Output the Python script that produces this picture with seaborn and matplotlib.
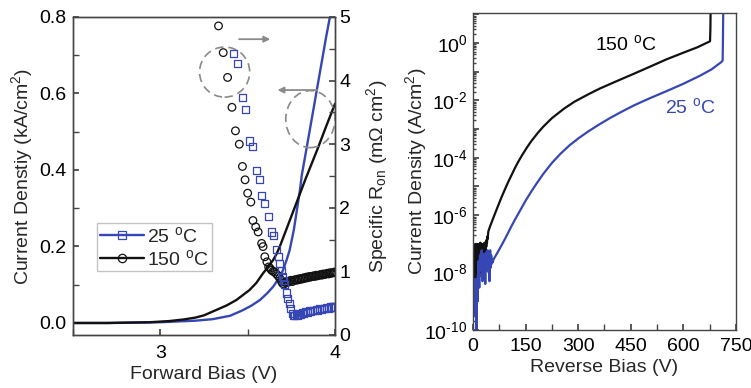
import numpy as np
import pandas as pd
import matplotlib
matplotlib.use("Agg")
import matplotlib.pyplot as plt
from matplotlib.patches import Ellipse
from matplotlib.lines import Line2D
from matplotlib.ticker import MultipleLocator, FixedLocator, FuncFormatter, LogLocator, NullFormatter
import seaborn as sns

# ---------------- data ----------------
labels = ["25 $^{\\mathrm{o}}$C", "150 $^{\\mathrm{o}}$C"]

# forward J-V (kA/cm^2)
fwd_v_25 = [2.5, 2.7, 2.9, 3.0, 3.1, 3.2, 3.3, 3.4, 3.47, 3.52, 3.57, 3.61, 3.646, 3.68,
            3.703, 3.723, 3.74, 3.764, 3.78, 3.8, 3.81, 3.85, 3.9, 3.95, 3.975]
fwd_j_25 = [0.0, 0.0, 0.001, 0.002, 0.004, 0.006, 0.010, 0.019, 0.033, 0.045, 0.060, 0.077,
            0.095, 0.118, 0.139, 0.165, 0.190, 0.243, 0.290, 0.350, 0.387, 0.490, 0.620,
            0.750, 0.810]
fwd_v_150 = [2.5, 2.7, 2.8, 2.94, 3.05, 3.13, 3.2, 3.25, 3.32, 3.38, 3.435, 3.51, 3.55, 3.588,
             3.62, 3.646, 3.665, 3.684, 3.72, 3.78, 3.83, 3.9, 3.95, 4.0]
fwd_j_150 = [0.0, 0.0, 0.001, 0.002, 0.005, 0.009, 0.014, 0.020, 0.034, 0.046, 0.060, 0.086,
             0.105, 0.130, 0.148, 0.165, 0.180, 0.200, 0.243, 0.315, 0.375, 0.455, 0.515, 0.573]

# specific on-resistance (mOhm cm^2)
ron_v_25 = [3.42, 3.444, 3.47, 3.49, 3.51, 3.53, 3.55, 3.569, 3.58, 3.594, 3.617, 3.636, 3.646,
            3.665, 3.674, 3.684, 3.694, 3.700, 3.707, 3.713, 3.72, 3.73, 3.737, 3.745, 3.755,
            3.762, 3.770, 3.778, 3.786, 3.794, 3.802, 3.812, 3.822, 3.832, 3.842, 3.852, 3.862,
            3.872, 3.882, 3.892, 3.902, 3.912, 3.922, 3.932, 3.942, 3.952, 3.962, 3.972, 3.982,
            3.992, 4.0]
ron_25 = [4.42, 4.27, 3.73, 3.54, 3.05, 2.96, 2.58, 2.44, 2.20, 2.07, 1.86, 1.62, 1.57, 1.34,
          1.24, 1.13, 1.02, 0.92, 0.85, 0.79, 0.66, 0.58, 0.50, 0.42, 0.34, 0.31, 0.30, 0.32,
          0.31, 0.33, 0.32, 0.35, 0.34, 0.37, 0.36, 0.38, 0.37, 0.39, 0.38, 0.40, 0.39, 0.41,
          0.40, 0.42, 0.41, 0.43, 0.42, 0.44, 0.43, 0.44, 0.44]
ron_v_150 = [3.333, 3.36, 3.385, 3.41, 3.43, 3.452, 3.47, 3.485, 3.50, 3.518, 3.53, 3.546, 3.56,
             3.58, 3.588, 3.598, 3.61, 3.62, 3.628, 3.636, 3.645, 3.655, 3.664, 3.674, 3.684,
             3.694, 3.700, 3.708, 3.716, 3.724, 3.732, 3.740, 3.748, 3.756, 3.764, 3.772, 3.780,
             3.788, 3.796, 3.804, 3.812, 3.820, 3.828, 3.836, 3.844, 3.852, 3.860, 3.868, 3.876,
             3.884, 3.892, 3.900, 3.908, 3.916, 3.924, 3.932, 3.940, 3.948, 3.956, 3.964, 3.972,
             3.980, 3.988, 3.996]
ron_150 = [4.86, 4.44, 4.05, 3.58, 3.21, 3.00, 2.65, 2.44, 2.23, 2.09, 1.80, 1.70, 1.62, 1.44,
           1.39, 1.23, 1.15, 1.07, 1.05, 1.02, 1.00, 0.99, 0.96, 0.93, 0.89, 0.84, 0.81, 0.80,
           0.83, 0.84, 0.83, 0.85, 0.86, 0.84, 0.86, 0.87, 0.86, 0.88, 0.87, 0.89, 0.88, 0.90,
           0.89, 0.91, 0.90, 0.92, 0.91, 0.92, 0.93, 0.92, 0.94, 0.93, 0.94, 0.95, 0.94, 0.96,
           0.95, 0.96, 0.97, 0.96, 0.98, 0.97, 0.98, 0.99]

# reverse J-V (A/cm^2): noisy floor at low bias, then the leakage rise and breakdown
rev_v_25 = list(range(1, 58)) + [58, 70, 80, 90, 100, 110, 120, 135, 150, 165, 180, 200, 225,
                                 250, 275, 300, 330, 360, 390, 420, 460, 505, 552, 600, 647,
                                 680, 709, 712, 713, 714]
rev_j_25 = [3e-9, 8e-10, 5e-9, 4e-10, 2e-9, 6e-9, 3e-10, 1.5e-9, 4e-9, 1.0e-10, 2e-9, 6e-9,
            1e-9, 8e-9, 5e-9, 2.5e-8, 8e-9, 3e-9, 2e-8, 4e-8, 1.2e-8, 3e-8, 5e-8, 2e-8, 6e-8,
            3e-8, 5e-9, 1.5e-8, 3.5e-8, 6e-9, 2e-8, 4.5e-8, 1.5e-8, 3e-8, 4e-9, 2e-8, 5e-8,
            2.5e-8, 4e-8, 1.2e-8, 3e-8, 6e-8, 2e-8, 5e-8, 1e-8, 4e-8, 5e-9, 2.5e-8, 6e-8, 3e-8,
            1.5e-8, 4e-8, 2e-8, 3e-8, 2.2e-8, 2.8e-8, 2.4e-8,
            2.8e-8, 5.0e-8, 8.3e-8, 1.4e-7, 2.4e-7, 4.2e-7, 7.1e-7, 1.5e-6, 3.2e-6, 6.3e-6,
            1.2e-5, 2.7e-5, 6.6e-5, 1.4e-4, 2.7e-4, 4.7e-4, 8.5e-4, 1.45e-3, 2.4e-3, 3.8e-3,
            6.8e-3, 1.2e-2, 2.1e-2, 3.8e-2, 7.2e-2, 0.12, 0.22, 0.25, 2.0, 30.0]
rev_v_150 = list(range(1, 44)) + [44, 50, 60, 70, 82, 90, 100, 110, 120, 130, 140, 155, 167,
                                  185, 200, 225, 260, 290, 330, 362, 410, 457, 505, 552, 600,
                                  640, 676, 677, 678]
rev_j_150 = [6e-9, 8e-8, 1.2e-8, 9e-8, 2e-8, 7e-8, 5e-9, 1e-7, 3e-8, 8e-8, 1.5e-8, 9e-8, 4e-8,
             1e-7, 2e-8, 8e-8, 6e-8, 1e-8, 9e-8, 5e-8, 1.1e-7, 2.5e-8, 8e-8, 1e-7, 7e-9, 6e-8,
             9e-8, 3e-8, 1e-7, 7e-8, 1.8e-8, 9e-8, 1.1e-7, 6e-8, 1e-7, 4e-8, 1.2e-7, 8e-8,
             1.4e-7, 1.1e-7, 1.8e-7, 1.5e-7, 2.2e-7,
             2.8e-7, 4.5e-7, 9.3e-7, 1.9e-6, 4.4e-6, 7.4e-6, 1.4e-5, 2.5e-5, 4.5e-5, 7.6e-5,
             1.23e-4, 2.4e-4, 3.9e-4, 7.4e-4, 1.2e-3, 2.4e-3, 5.2e-3, 9.1e-3, 1.66e-2, 2.6e-2,
             4.7e-2, 8.3e-2, 0.15, 0.27, 0.46, 0.71, 1.15, 3.0, 30.0]

# ---------------- style ----------------
sns.set_theme(style="ticks")
plt.rcParams["font.family"] = ["Liberation Sans", "DejaVu Sans"]
plt.rcParams["mathtext.fontset"] = "custom"
plt.rcParams["mathtext.rm"] = "Liberation Sans"
plt.rcParams["mathtext.it"] = "Liberation Sans:italic"
plt.rcParams["mathtext.bf"] = "Liberation Sans:bold"
plt.rcParams["axes.unicode_minus"] = False

BLUE = "#3647b5"
BLACK = "#111111"
GRAY = "#8a8a8a"
SPINE = "#444444"
FS = 14

fig = plt.figure(figsize=(7.51, 3.88), dpi=100)
ax = fig.add_axes([0.0972, 0.1366, 0.3489, 0.8196])
ax2 = ax.twinx()
axr = fig.add_axes([0.6298, 0.1495, 0.3502, 0.8170])

# ---------------- forward panel ----------------
fwd25 = pd.DataFrame({"V": fwd_v_25, "J": fwd_j_25})
fwd150 = pd.DataFrame({"V": fwd_v_150, "J": fwd_j_150})
sns.lineplot(data=fwd25, x="V", y="J", ax=ax, color=BLUE, lw=1.7, sort=False, estimator=None)
sns.lineplot(data=fwd150, x="V", y="J", ax=ax, color=BLACK, lw=1.7, sort=False, estimator=None)

r25 = pd.DataFrame({"V": ron_v_25, "R": ron_25})
r150 = pd.DataFrame({"V": ron_v_150, "R": ron_150})
sns.scatterplot(data=r150, x="V", y="R", ax=ax2, marker="o", s=30, color=BLACK,
                facecolor="none", edgecolor=BLACK, linewidth=0.9, zorder=3)
sns.scatterplot(data=r25, x="V", y="R", ax=ax2, marker="s", s=26, color=BLUE,
                facecolor="none", edgecolor=BLUE, linewidth=0.9, zorder=3)

ax.set_xlim(2.5, 4.0)
ax.set_ylim(-0.0314, 0.8)
ax2.set_ylim(0, 5)
ax.xaxis.set_major_locator(FixedLocator([3, 4]))
ax.xaxis.set_minor_locator(FixedLocator([2.5, 3.5]))
ax.yaxis.set_major_locator(MultipleLocator(0.2))
ax.yaxis.set_minor_locator(MultipleLocator(0.1))
ax.yaxis.set_major_formatter(FuncFormatter(lambda v, p: f"{v:.1f}"))
ax2.yaxis.set_major_locator(MultipleLocator(1))
ax2.yaxis.set_minor_locator(MultipleLocator(0.5))

ax.set_xlabel("Forward Bias (V)", fontsize=FS, labelpad=3)
ax.set_ylabel("Current Denstiy (kA/cm$^2$)", fontsize=FS, labelpad=2.5)
ax2.set_ylabel("Specific R$_{\\mathrm{on}}$ (m$\\Omega$ cm$^2$)", fontsize=FS, labelpad=10)

ax.tick_params(axis="both", which="both", direction="in", labelsize=FS, colors=SPINE,
               labelcolor="black", top=False, right=False)
ax.tick_params(axis="x", which="both", pad=7, length=4)
ax.tick_params(axis="y", which="both", pad=5, length=4)
ax2.tick_params(axis="y", which="both", direction="in", labelsize=FS, colors=SPINE,
                labelcolor="black", pad=3, length=4)
ax2.tick_params(axis="x", which="both", top=False)

# dashed circles and arrows pointing each data group to its axis
ax.add_patch(Ellipse((3.368, 0.656), 0.287, 0.131, fill=False, ec=GRAY, lw=1.2,
                     ls=(0, (5, 3)), zorder=4))
ax.add_patch(Ellipse((3.859, 0.533), 0.282, 0.149, fill=False, ec=GRAY, lw=1.2,
                     ls=(0, (5, 3)), zorder=4, clip_on=False))
ax.annotate("", xy=(3.645, 0.742), xytext=(3.435, 0.742),
            arrowprops=dict(arrowstyle="-|>", color=GRAY, lw=1.3, mutation_scale=9))
ax.annotate("", xy=(3.655, 0.609), xytext=(3.914, 0.609),
            arrowprops=dict(arrowstyle="-|>", color=GRAY, lw=1.3, mutation_scale=9))

handles = [Line2D([], [], color=BLUE, lw=1.7, marker="s", ms=5.5, mfc="none", mec=BLUE, mew=0.9),
           Line2D([], [], color=BLACK, lw=1.7, marker="o", ms=6, mfc="none", mec=BLACK, mew=0.9)]
leg = ax2.legend(handles, labels, loc="upper left", bbox_to_anchor=(0.1288, 0.4245),
                 bbox_transform=fig.transFigure, frameon=True, fancybox=False,
                 edgecolor="#b5b5b5", fontsize=FS, handlelength=2.3, handletextpad=0.15,
                 labelspacing=0.12, borderpad=0.15, borderaxespad=0, numpoints=1)
leg.get_frame().set_linewidth(1.0)

# ---------------- reverse panel ----------------
axr.set_yscale("log")
rev25 = pd.DataFrame({"V": rev_v_25, "J": rev_j_25})
rev150 = pd.DataFrame({"V": rev_v_150, "J": rev_j_150})
sns.lineplot(data=rev150, x="V", y="J", ax=axr, color=BLACK, lw=1.6, sort=False, estimator=None)
sns.lineplot(data=rev25, x="V", y="J", ax=axr, color=BLUE, lw=1.6, sort=False, estimator=None)

axr.set_xlim(0, 750)
axr.set_ylim(1e-10, 11.1)
axr.xaxis.set_major_locator(MultipleLocator(150))
axr.xaxis.set_minor_locator(MultipleLocator(75))
axr.yaxis.set_major_locator(FixedLocator([10.0 ** e for e in range(-10, 2)]))
axr.yaxis.set_minor_locator(LogLocator(base=10, subs=np.arange(2, 10), numticks=30))
axr.yaxis.set_minor_formatter(NullFormatter())


def _decade(v, pos):
    e = int(round(np.log10(v)))
    if e % 2:
        return ""
    if e < 0:
        return "$\\mathdefault{10^{\\text{-}%d}}$" % (-e)
    return "$\\mathdefault{10^{%d}}$" % e


axr.yaxis.set_major_formatter(FuncFormatter(_decade))
axr.tick_params(axis="both", which="both", direction="in", labelsize=FS, colors=SPINE,
                labelcolor="black", top=False, right=False)
axr.tick_params(axis="x", which="both", pad=6, length=4)
axr.tick_params(axis="y", which="major", pad=4, length=4)
axr.tick_params(axis="y", which="minor", length=2.2)

axr.set_xlabel("Reverse Bias (V)", fontsize=FS, labelpad=3)
axr.set_ylabel("Current Density (A/cm$^2$)", fontsize=FS, labelpad=-3)

axr.text(348, 0.95, labels[1], ha="left", va="center", fontsize=FS, color="black")
axr.text(547, 6e-3, labels[0], ha="left", va="center", fontsize=FS, color=BLUE)

for a in (ax, ax2, axr):
    for s in a.spines.values():
        s.set_color(SPINE)
        s.set_linewidth(1.0)
    a.spines["top"].set_visible(True)
    a.spines["right"].set_visible(True)

fig.savefig("out.png", dpi=100)
